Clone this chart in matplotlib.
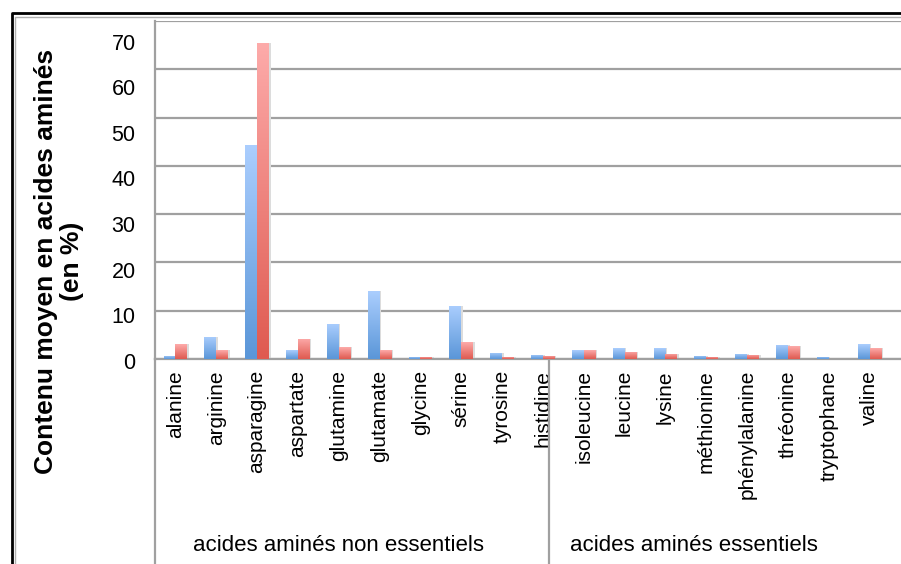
import numpy as np
import matplotlib.pyplot as plt
from matplotlib.lines import Line2D
from matplotlib.colors import LinearSegmentedColormap
from matplotlib.transforms import ScaledTranslation

plt.rcParams['font.family'] = ['Liberation Sans', 'DejaVu Sans']

# donnees
acides = ["alanine", "arginine", "asparagine", "aspartate", "glutamine",
          "glutamate", "glycine", "sérine", "tyrosine", "histidine",
          "isoleucine", "leucine", "lysine", "méthionine", "phénylalanine",
          "thréonine", "tryptophane", "valine"]
serie_bleue = [0.7, 4.6, 44.3, 1.8, 7.3, 14.0, 0.45, 11.0, 1.3, 0.9,
               1.8, 2.2, 2.2, 0.7, 1.1, 2.9, 0.45, 3.1]
serie_rouge = [3.1, 1.8, 65.4, 4.2, 2.4, 1.8, 0.45, 3.5, 0.45, 0.7,
               1.8, 1.5, 1.1, 0.45, 0.9, 2.6, 0.0, 2.2]
groupes = ["acides aminés non essentiels", "acides aminés essentiels"]
yticks = [0, 10, 20, 30, 40, 50, 60, 70]

W, H = 901, 564
fig = plt.figure(figsize=(W / 100, H / 100), dpi=100)
ax = fig.add_axes([155 / W, (H - 359) / H, 1 - 155 / W, (359 - 21) / H])

cmap_bleu = LinearSegmentedColormap.from_list("bleu", ["#5a96d8", "#abcefe"])
cmap_rouge = LinearSegmentedColormap.from_list("rouge", ["#df5a50", "#fdabaa"])

x = np.arange(len(acides))
largeur = 0.29
grad = np.linspace(0, 1, 256).reshape(-1, 1)


def barres_degradees(xs, valeurs, cmap):
    bars = ax.bar(xs, valeurs, largeur, color="none", edgecolor="none", zorder=3)
    for b in bars:
        h = b.get_height()
        if h <= 0:
            continue
        x0 = b.get_x()
        # petite ombre a droite
        ax.bar(x0 + b.get_width() / 2 + 0.04, h, largeur, color="#dcdcdc",
               edgecolor="none", zorder=2)
        im = ax.imshow(grad, cmap=cmap, aspect="auto", origin="lower",
                       extent=[x0, x0 + b.get_width(), 0, h], zorder=3)
        im.set_clip_path(b)


barres_degradees(x - largeur / 2, serie_bleue, cmap_bleu)
barres_degradees(x + largeur / 2, serie_rouge, cmap_rouge)

ax.set_xlim(-0.5, 17.77)
ax.set_ylim(0, 70)
ax.set_yticks(yticks)
ax.set_yticklabels([str(v) for v in yticks], fontsize=15.5)
ax.yaxis.grid(True, color="#a0a0a0", linewidth=1.6, zorder=0)
ax.set_axisbelow(True)
ax.tick_params(axis="y", length=0, pad=14)
# les etiquettes de l'axe y sont un peu plus serrees que la grille
for v, lab in zip(yticks, ax.get_yticklabels()):
    decal = (1.7 + 0.27 * v) / 100
    lab.set_transform(lab.get_transform() +
                      ScaledTranslation(0, -decal, fig.dpi_scale_trans))
ax.set_xticks(x)
ax.set_xticklabels(acides, rotation=90, fontsize=15, va="top")
ax.tick_params(axis="x", length=0, pad=8)

for s in ["top", "right"]:
    ax.spines[s].set_visible(False)
ax.spines["left"].set_color("#a0a0a0")
ax.spines["left"].set_linewidth(1.6)
ax.spines["bottom"].set_color("#a0a0a0")
ax.spines["bottom"].set_linewidth(1.6)

# lignes de separation des groupes sous l'axe
bas = -(H - 359) / (359 - 21)
trans = ax.get_xaxis_transform()
for xs in [-0.5, 9.15]:
    ax.plot([xs, xs], [0, bas], color="#a0a0a0", lw=1.6, transform=trans,
            clip_on=False)

ax.text(4.0, bas + 0.055, groupes[0], transform=trans, ha="center",
        va="center", fontsize=16)
ax.text(12.7, bas + 0.055, groupes[1], transform=trans, ha="center",
        va="center", fontsize=16)

fig.text(59 / W, (H - 261) / H, "Contenu moyen en acides aminés\n(en %)",
         rotation=90, ha="center", va="center", fontsize=19,
         fontweight="bold", multialignment="center", linespacing=1.1)

# cadre du graphique
fig.add_artist(Line2D([12 / W, 12 / W, 1], [0, 1 - 13 / H, 1 - 13 / H],
                      color="black", lw=2))
fig.add_artist(Line2D([15 / W, 15 / W, 1], [0, 1 - 16.5 / H, 1 - 16.5 / H],
                      color="#b0b0b0", lw=1))

fig.savefig("out.png", dpi=100)
